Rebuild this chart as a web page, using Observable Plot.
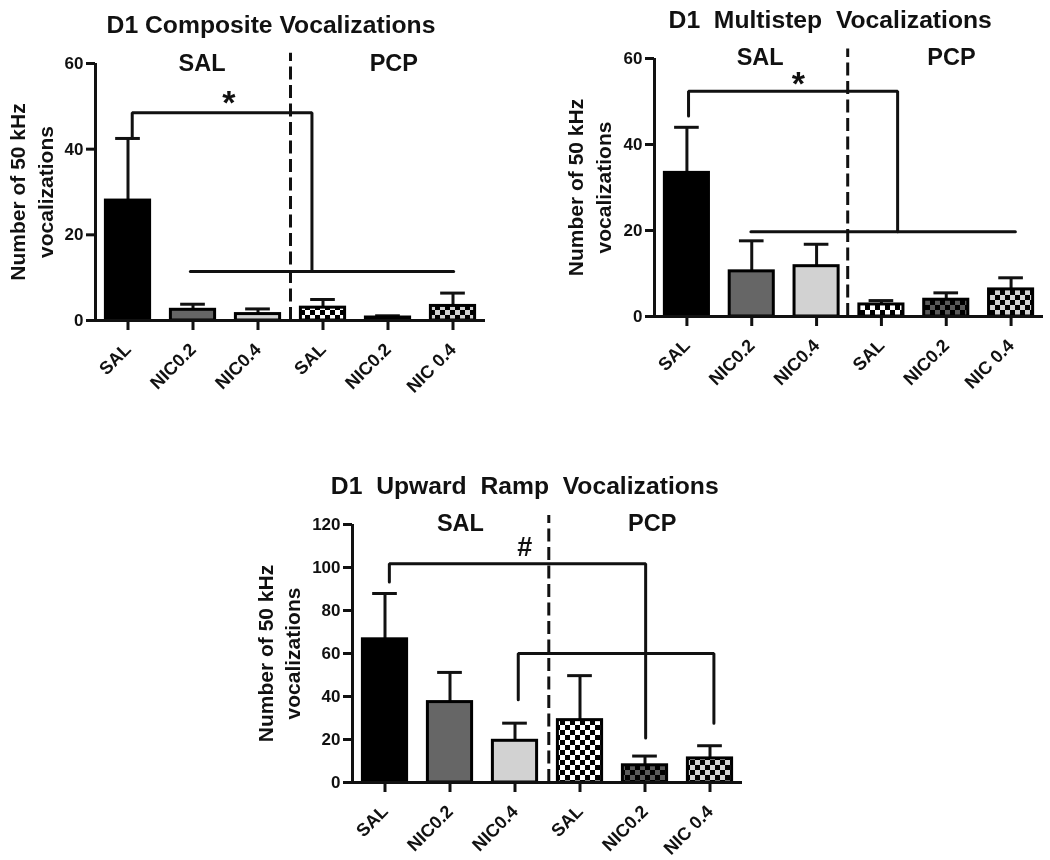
<!DOCTYPE html>
<html>
<head>
<meta charset="utf-8">
<script src="https://cdn.jsdelivr.net/npm/d3@7"></script>
<script src="https://cdn.jsdelivr.net/npm/@observablehq/plot@0.6"></script>
<style>
html,body{margin:0;padding:0;background:#fff;}
#stage{position:relative;width:1050px;height:860px;overflow:hidden;background:#fff;}
#stage>div,#stage>svg{position:absolute;}
#stage svg{filter:blur(0.45px);}
</style>
</head>
<body>
<div id="stage"></div>
<script>
const categories = ["SAL", "NIC0.2", "NIC0.4", "SAL", "NIC0.2", "NIC 0.4"];

const compositeMeans = [28.0, 2.5, 1.5, 3.0, 0.7, 3.4];
const compositeTops  = [42.5, 3.8, 2.7, 4.9, 1.1, 6.4];
const multistepMeans = [33.4, 10.5, 11.7, 2.8, 3.9, 6.3];
const multistepTops  = [44.0, 17.6, 16.8, 3.7, 5.5, 9.0];
const upwardMeans    = [66.6, 37.4, 19.4, 29.0, 8.0, 11.2];
const upwardTops     = [87.9, 51.2, 27.6, 49.7, 12.3, 17.1];

const compositeBrackets = [
  [[0.565, 42.5], [0.565, 48.5], [3.33, 48.5], [3.33, 11.45]],
  [[1.46, 11.45], [5.51, 11.45]]
];
const multistepBrackets = [
  [[0.525, 46.6], [0.525, 52.4], [3.75, 52.4], [3.75, 19.7]],
  [[1.487, 19.7], [5.566, 19.7]]
];
const upwardBrackets = [
  [[0.567, 93.2], [0.567, 101.7], [4.51, 101.7], [4.51, 20.7]],
  [[2.55, 38.5], [2.55, 60], [5.56, 60], [5.56, 27.6]]
];

const barFills = ["#000000", "#666666", "#d2d2d2", "url(#chkWhite)", "url(#chkDark)", "url(#chkLight)"];
const checkers = [["chkWhite", "#ffffff"], ["chkDark", "#5a5a5a"], ["chkLight", "#d2d2d2"]];

const FONT = "'Liberation Sans', Arial, sans-serif";
const INK = "#111111";

function defs() {
  const d = d3.create("svg:defs");
  for (const [id, bg] of checkers) {
    const p = d.append("pattern").attr("id", id).attr("patternUnits", "userSpaceOnUse")
      .attr("width", 10).attr("height", 10);
    p.append("rect").attr("width", 10).attr("height", 10).attr("fill", bg);
    p.append("rect").attr("width", 5).attr("height", 5).attr("fill", "#000");
    p.append("rect").attr("x", 5).attr("y", 5).attr("width", 5).attr("height", 5).attr("fill", "#000");
  }
  return d.node();
}

function panel(cfg) {
  const rows = categories.map((c, i) => ({i, mean: cfg.means[i], top: cfg.tops[i], fill: barFills[i]}));
  const txt = (t, x, y, size, extra = {}) => Plot.text([t], {
    x: () => x, y: () => y, text: d => d, fontSize: size, fontWeight: "bold", fill: INK, ...extra
  });
  const chart = Plot.plot({
    width: cfg.w, height: cfg.h,
    marginLeft: cfg.ml, marginRight: cfg.mr, marginTop: cfg.mt, marginBottom: cfg.mb,
    style: {fontFamily: FONT, background: "transparent", overflow: "visible"},
    x: {type: "linear", domain: [0, 6]},
    y: {domain: [0, cfg.ymax]},
    marks: [
      () => defs(),
      Plot.ruleX(rows, {x: d => d.i + 0.5, y1: "mean", y2: "top", stroke: INK, strokeWidth: 3}),
      Plot.ruleY(rows, {y: "top", x1: d => d.i + 0.31, x2: d => d.i + 0.69, stroke: INK, strokeWidth: 3}),
      Plot.rectY(rows, {x1: d => d.i + 0.16, x2: d => d.i + 0.84, y1: 0, y2: "mean", fill: "fill", stroke: "#000", strokeWidth: 3}),
      Plot.ruleX([0], {y1: 0, y2: cfg.ymax, stroke: INK, strokeWidth: 3}),
      Plot.ruleY([0], {x1: 0, x2: 6, stroke: INK, strokeWidth: 3}),
      Plot.axisY({ticks: cfg.yticks, tickSize: 9, tickPadding: 3, label: null, fontSize: 17, fontWeight: "bold", stroke: INK, strokeWidth: 3, color: INK}),
      Plot.axisX({ticks: categories.map((c, i) => i + 0.5), tickFormat: d => categories[d - 0.5], tickSize: 10, tickPadding: 16, tickRotate: -45, label: null, fontSize: 18, fontWeight: "bold", stroke: INK, strokeWidth: 3, color: INK}),
      ...cfg.brackets.map(b => Plot.line(b, {x: d => d[0], y: d => d[1], stroke: INK, strokeWidth: 3, strokeLinejoin: "miter"})),
      Plot.ruleX([cfg.divider], {y1: 0, y2: cfg.dividerTop, stroke: INK, strokeWidth: 3, strokeDasharray: "13 5.5"}),
      txt(cfg.title, cfg.titleX, cfg.titleY, 24.7),
      txt("SAL", cfg.salX, cfg.groupY, 23.5),
      txt("PCP", cfg.pcpX, cfg.groupY, 23.5),
      txt(cfg.mark, cfg.markX, cfg.markY, cfg.markSize),
      Plot.text(["Number of 50 kHz\nvocalizations"], {
        frameAnchor: "left", dx: cfg.labelDx, rotate: -90, text: d => d, textAnchor: "middle",
        fontSize: 21, fontWeight: "bold", fill: INK, lineHeight: 1.32
      })
    ]
  });
  chart.style.left = cfg.left + "px";
  chart.style.top = cfg.top + "px";
  document.getElementById("stage").append(chart);
}

panel({
  left: 0, top: 0, w: 500, h: 400, ml: 95, mr: 15, mt: 63, mb: 80,
  ymax: 60, yticks: [0, 20, 40, 60], means: compositeMeans, tops: compositeTops, brackets: compositeBrackets,
  divider: 3, dividerTop: 62.4, title: "D1 Composite Vocalizations", titleX: 2.7, titleY: 68.9,
  salX: 1.64, pcpX: 4.59, groupY: 60, mark: "*", markX: 2.05, markY: 50.7, markSize: 34, labelDx: -65.5
});
panel({
  left: 540, top: 0, w: 510, h: 400, ml: 114, mr: 7, mt: 58, mb: 84,
  ymax: 60, yticks: [0, 20, 40, 60], means: multistepMeans, tops: multistepTops, brackets: multistepBrackets,
  divider: 2.98, dividerTop: 62.2, title: "D1  Multistep  Vocalizations", titleX: 2.71, titleY: 68.9,
  salX: 1.63, pcpX: 4.58, groupY: 60.3, mark: "*", markX: 2.22, markY: 54, markSize: 34, labelDx: -66.5
});
panel({
  left: 240, top: 460, w: 510, h: 400, ml: 112, mr: 8, mt: 64, mb: 78,
  ymax: 120, yticks: [0, 20, 40, 60, 80, 100, 120], means: upwardMeans, tops: upwardTops, brackets: upwardBrackets,
  divider: 3.02, dividerTop: 124.2, title: "D1  Upward  Ramp  Vocalizations", titleX: 2.65, titleY: 138,
  salX: 1.66, pcpX: 4.61, groupY: 120.4, mark: "#", markX: 2.65, markY: 109.5, markSize: 27, labelDx: -75
});
</script>
</body>
</html>
